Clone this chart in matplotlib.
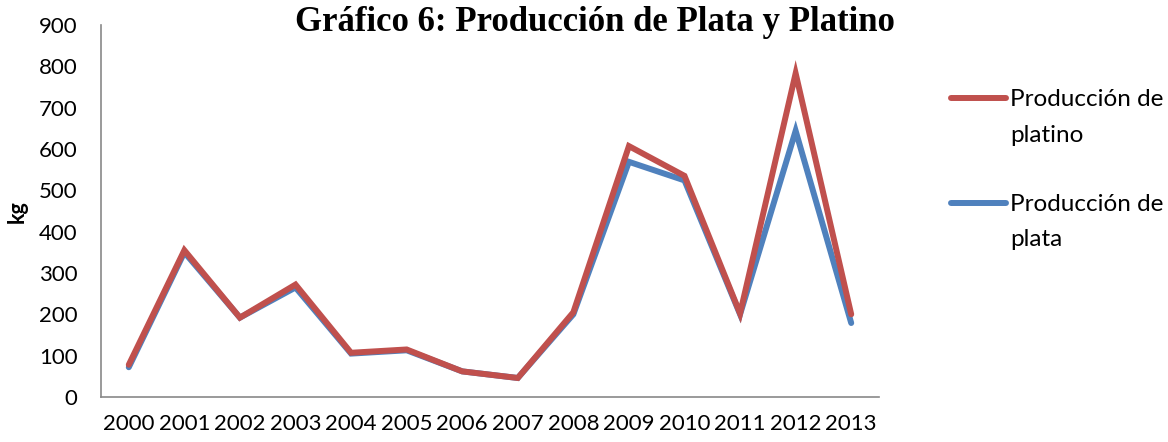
import matplotlib
matplotlib.use("Agg")
import matplotlib.pyplot as plt
from matplotlib.lines import Line2D

years = ["2000", "2001", "2002", "2003", "2004", "2005", "2006",
         "2007", "2008", "2009", "2010", "2011", "2012", "2013"]
platino = [78, 355, 192, 272, 107, 115, 62, 46, 205, 607, 535, 202, 783, 200]
plata = [72, 350, 192, 265, 105, 113, 62, 46, 200, 569, 524, 200, 644, 179]

title = "Gráfico 6: Producción de Plata y Platino"
ylabel = "kg"
label_platino = "Producción de\nplatino"
label_plata = "Producción de\nplata"

RED = "#C0504D"
BLUE = "#4F81BD"
GRAY = "#898989"
FONT = "Lato"

W, H = 1168, 442
fig = plt.figure(figsize=(W / 100, H / 100), dpi=100)
ax = fig.add_axes([101 / W, 1 - 397 / H, (879 - 101) / W, (397 - 25) / H])

x = list(range(len(years)))
ax.plot(x, plata, color=BLUE, lw=4.3, solid_capstyle="round",
        solid_joinstyle="miter", zorder=2)
ax.plot(x, platino, color=RED, lw=4.3, solid_capstyle="round",
        solid_joinstyle="miter", zorder=3)

ax.set_xlim(-0.5, len(years) - 0.5)
ax.set_ylim(0, 900)
ax.set_yticks(range(0, 901, 100))
ax.set_xticks(x)
ax.set_xticklabels(years)
ax.tick_params(length=0, labelsize=16, colors="black")
ax.tick_params(axis="y", pad=17)
ax.tick_params(axis="x", pad=12)
for lab in ax.get_xticklabels() + ax.get_yticklabels():
    lab.set_fontfamily(FONT)
for s in ["top", "right"]:
    ax.spines[s].set_visible(False)
for s in ["left", "bottom"]:
    ax.spines[s].set_color(GRAY)
    ax.spines[s].set_linewidth(1.2)

fig.text(17 / W, 1 - 212 / H, ylabel, rotation=90, ha="center", va="center",
         fontsize=15.5, fontweight="bold", fontfamily=FONT)

fig.text(595 / W, 1 - 31 / H, title, ha="center", va="baseline",
         fontsize=25, fontweight="bold", fontfamily="Liberation Serif")

# legend (drawn manually to align handle with the first text line)
for color, label, ycen in [(RED, label_platino, 98), (BLUE, label_plata, 203)]:
    fig.add_artist(Line2D([951 / W, 1006 / W], [1 - ycen / H, 1 - ycen / H],
                          color=color, lw=4.3, solid_capstyle="round",
                          transform=fig.transFigure))
    for i, line in enumerate(label.split("\n")):
        fig.text(1010 / W, 1 - (ycen + 35 * i) / H, line, ha="left",
                 va="center_baseline", fontsize=17.5, fontfamily=FONT)

fig.savefig("out.png", dpi=100)
